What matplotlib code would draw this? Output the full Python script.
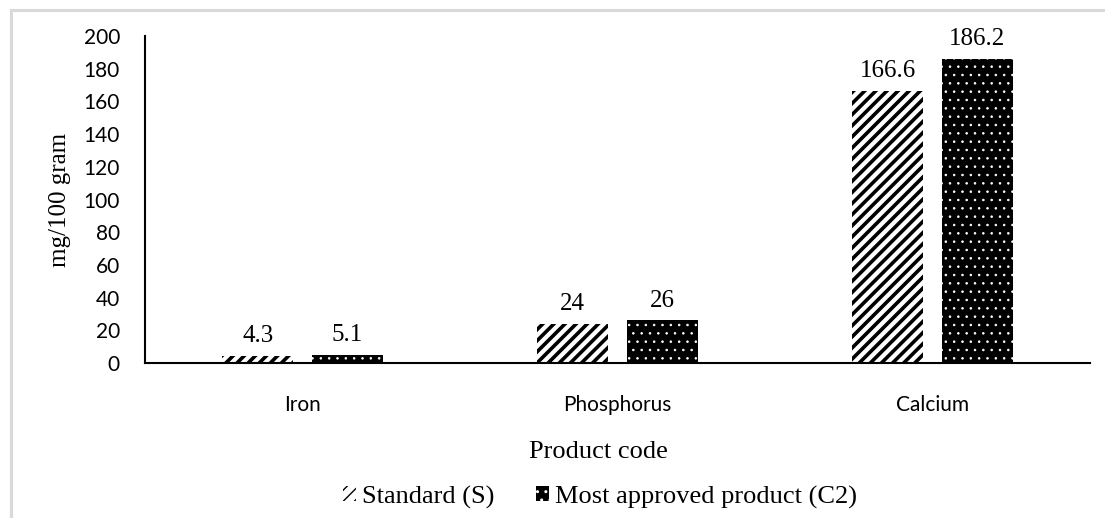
import matplotlib
matplotlib.use("Agg")
import matplotlib.pyplot as plt
from matplotlib.lines import Line2D
import numpy as np

nutrients = ["Iron", "Phosphorus", "Calcium"]
standard = [4.3, 24, 166.6]
approved = [5.1, 26, 186.2]
standard_labels = ["4.3", "24", "166.6"]
approved_labels = ["5.1", "26", "186.2"]
series_names = ["Standard (S)", "Most approved product (C2)"]

serif = "Liberation Serif"
sans = "Lato"

fig = plt.figure(figsize=(11.05, 5.18), dpi=100)
ax = fig.add_axes([145 / 1105, 1 - 363 / 518, (1090 - 145) / 1105, (363 - 36) / 518])

x = np.arange(len(nutrients))
w = 0.225
off = 0.142

with plt.rc_context({"hatch.linewidth": 2.6, "hatch.color": "black"}):
    b1 = ax.bar(x - off, standard, w, facecolor="white", edgecolor="black",
                linewidth=0, hatch="///", label=series_names[0])
with plt.rc_context({"hatch.linewidth": 0.6}):
    b2 = ax.bar(x + off, approved, w, facecolor="black", edgecolor="white",
                linewidth=0, hatch="..", label=series_names[1])

for xi, v, s in zip(x - off, standard, standard_labels):
    ax.annotate(s, (xi, v), xytext=(0, 10), textcoords="offset points",
                ha="center", va="baseline", fontsize=18, family=serif)
for xi, v, s in zip(x + off, approved, approved_labels):
    ax.annotate(s, (xi, v), xytext=(0, 10), textcoords="offset points",
                ha="center", va="baseline", fontsize=18, family=serif)

ax.set_xlim(-0.5, 2.5)
ax.set_ylim(0, 200)
ax.set_yticks(range(0, 201, 20))
ax.set_xticks(x)
ax.set_xticklabels(nutrients, family=sans, fontsize=15)
for t in ax.get_yticklabels():
    t.set_family(sans)
    t.set_fontsize(15)
ax.tick_params(axis="y", length=0, pad=18)
ax.tick_params(axis="x", length=0, pad=23)

for side in ["top", "right"]:
    ax.spines[side].set_visible(False)
ax.spines["left"].set_linewidth(1.5)
ax.spines["bottom"].set_linewidth(1.5)

ax.set_ylabel("mg/100 gram", family=serif, fontsize=18)
ax.yaxis.set_label_coords(-(145 - 71) / 945, 0.5)
fig.text(598 / 1105, 1 - 452 / 518, "Product code", ha="center", va="center",
         family=serif, fontsize=19)

fig.legend(handles=[b1, b2], labels=series_names, loc="center",
           bbox_to_anchor=(600 / 1105, 1 - 497 / 518), ncol=2, frameon=False,
           prop={"family": serif, "size": 19}, handlelength=0.5,
           handleheight=0.5, handletextpad=0.2, columnspacing=1.6)

# light frame along the left and top edges
fig.add_artist(Line2D([10.5 / 1105, 10.5 / 1105], [0, 1 - 10 / 518],
                      transform=fig.transFigure, color="#d9d9d9", linewidth=2.2))
fig.add_artist(Line2D([10.5 / 1105, 1], [1 - 10 / 518, 1 - 10 / 518],
                      transform=fig.transFigure, color="#d9d9d9", linewidth=2.2))

fig.savefig("out.png", dpi=100)
